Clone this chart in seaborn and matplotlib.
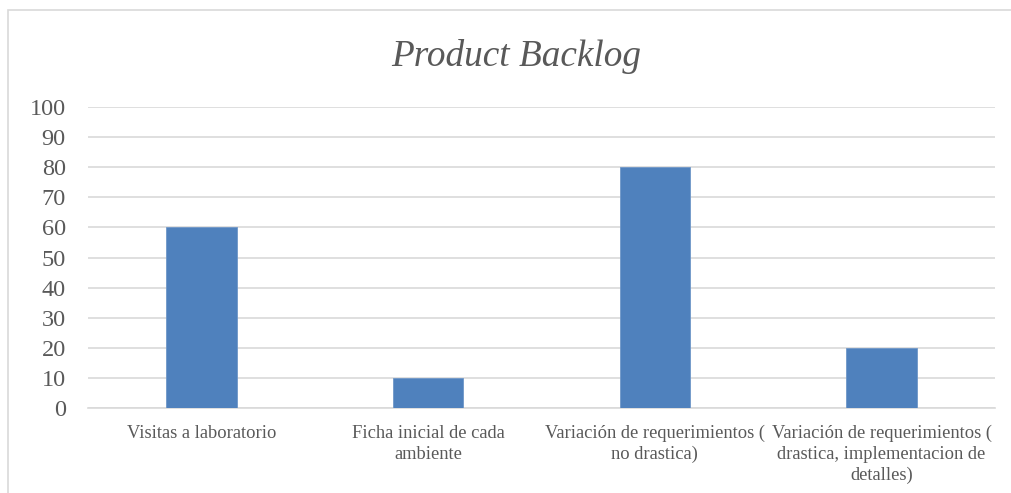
import matplotlib
matplotlib.use("Agg")
import matplotlib.pyplot as plt
import seaborn as sns
import pandas as pd
from matplotlib.patches import Rectangle

categories = [
    "Visitas a laboratorio",
    "Ficha inicial de cada\nambiente",
    "Variación de requerimientos (\nno drastica)",
    "Variación de requerimientos (\ndrastica, implementacion de\ndetalles)",
]
values = [60, 10, 80, 20]
yticks = [0, 10, 20, 30, 40, 50, 60, 70, 80, 90, 100]
title = "Product Backlog"

sns.set_theme(style="white")
plt.rcParams["font.family"] = ["Liberation Serif", "DejaVu Serif"]

text_color = "#595959"
grid_color = "#D9D9D9"
bar_color = "#4F81BD"

fig = plt.figure(figsize=(10.11, 4.93), dpi=100)
ax = fig.add_axes([88 / 1011, 1 - 408 / 493, (995 - 88) / 1011, (408 - 107) / 493])

df = pd.DataFrame({"cat": categories, "val": values})
sns.barplot(data=df, x="cat", y="val", color=bar_color, saturation=1,
            width=0.31, ax=ax, zorder=3, edgecolor="#6f97c8", linewidth=0.6)

ax.set_ylim(0, 100)
ax.set_xlim(-0.5, len(categories) - 0.5)
ax.set_yticks(yticks)
ax.set_yticklabels([str(t) for t in yticks], fontsize=17.5, color=text_color)
ax.tick_params(axis="y", length=0, pad=16)
ax.tick_params(axis="x", length=0, pad=12)
for lbl in ax.get_xticklabels():
    lbl.set_fontsize(13.3)
    lbl.set_color(text_color)
    lbl.set_linespacing(1.3)
ax.set_xlabel("")
ax.set_ylabel("")
ax.yaxis.grid(True, color=grid_color, linewidth=1.2, zorder=0)
ax.xaxis.grid(False)
for s in ["top", "right", "left"]:
    ax.spines[s].set_visible(False)
ax.spines["bottom"].set_color(grid_color)
ax.spines["bottom"].set_linewidth(1.2)

fig.text(516 / 1011, 1 - 57 / 493, title, ha="center", va="center",
         fontsize=26.8, style="italic", color=text_color)

fig.patches.append(Rectangle((8 / 1011, -0.1), 1.2, 1 - 10 / 493 + 0.1,
                             transform=fig.transFigure, fill=False,
                             edgecolor="#D9D9D9", linewidth=1.2))

fig.savefig("out.png", dpi=100, facecolor="white")
